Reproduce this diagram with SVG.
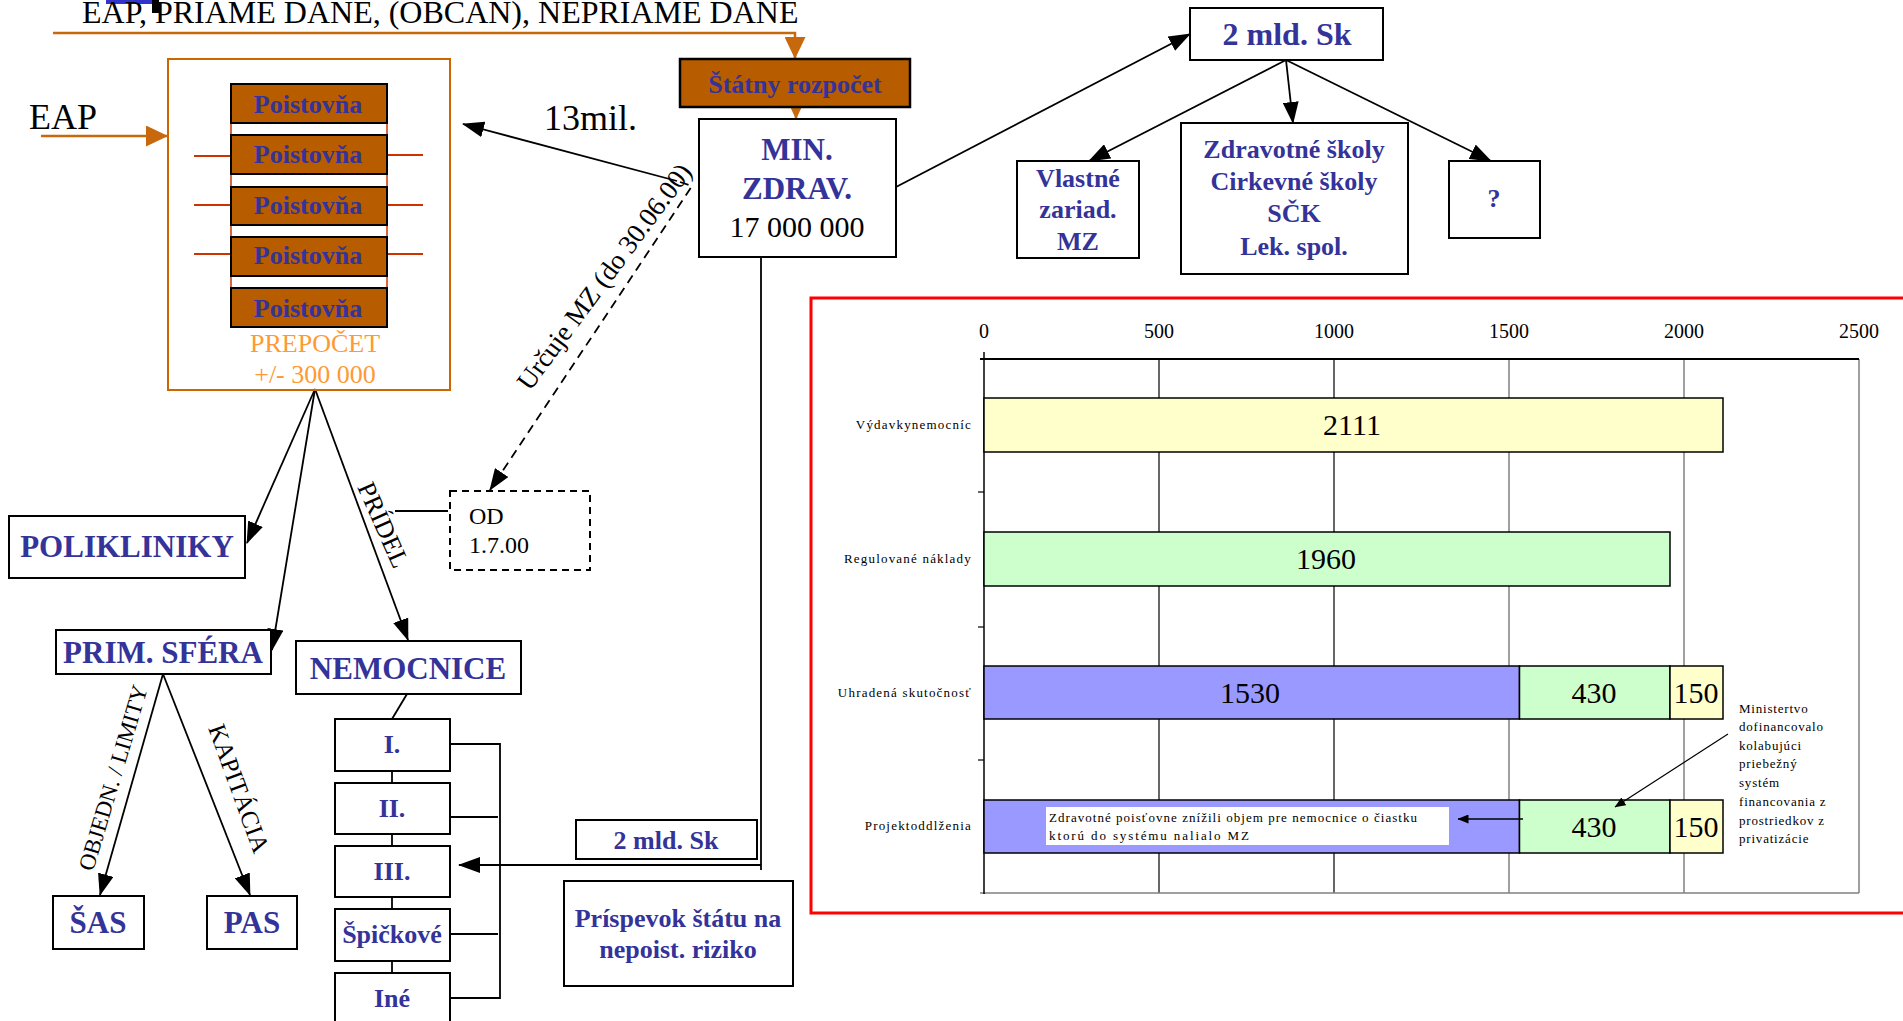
<svg xmlns="http://www.w3.org/2000/svg" width="1903" height="1021" viewBox="0 0 1903 1021">
<style>
text{font-family:"Liberation Serif","Times New Roman",serif;}
.b{fill:#333399;font-weight:bold;font-size:26px;text-anchor:middle;}
.b31{font-size:31px;}
.b30{font-size:30px;}
.bx{fill:#fff;stroke:#000;stroke-width:2;}
.ln{stroke:#000;stroke-width:1.8;fill:none;}
.or{stroke:#C8680C;stroke-width:2.5;fill:none;}
.poi{fill:#B85C00;stroke:#000;stroke-width:2;}
.sm{font-size:13px;fill:#000;}
.tk{font-size:20px;fill:#000;text-anchor:middle;}
.val{font-size:30px;fill:#000;text-anchor:middle;}
.cat{font-size:13px;fill:#000;text-anchor:end;letter-spacing:1.2px;}
.gk{stroke:#000;stroke-width:1.2;}
.gg{stroke:#808080;stroke-width:1.5;}
</style>
<defs>
<marker id="ah" markerUnits="userSpaceOnUse" markerWidth="22" markerHeight="16" viewBox="0 0 22 16" refX="21" refY="8" orient="auto"><path d="M0,0 L22,8 L0,16 z" fill="#000"/></marker>
<marker id="ahs" markerUnits="userSpaceOnUse" markerWidth="11" markerHeight="9" viewBox="0 0 11 9" refX="10.5" refY="4.5" orient="auto"><path d="M0,0 L11,4.5 L0,9 z" fill="#000"/></marker>
<marker id="aho" markerUnits="userSpaceOnUse" markerWidth="22" markerHeight="21" viewBox="0 0 22 21" refX="21" refY="10.5" orient="auto"><path d="M0,0 L22,10.5 L0,21 z" fill="#C8680C"/></marker>
<marker id="ahos" markerUnits="userSpaceOnUse" markerWidth="12" markerHeight="11" viewBox="0 0 12 11" refX="11.5" refY="5.5" orient="auto"><path d="M0,0 L12,5.5 L0,11 z" fill="#C8680C"/></marker>
</defs>
<rect width="1903" height="1021" fill="#fff"/>

<!-- artifacts -->
<rect x="106" y="0" width="48" height="4" fill="#3333CC"/>
<rect x="152" y="0" width="7" height="13" fill="#000"/>

<text x="82" y="23" font-size="32" fill="#000">EAP, PRIAME DANE, (OBCAN), NEPRIAME DANE</text>

<g id="connectors">
  <polyline class="or" points="53,33 795,33 795,58" marker-end="url(#aho)"/>
  <line class="or" x1="41" y1="136" x2="167" y2="136" marker-end="url(#aho)"/>
  <line class="or" x1="796" y1="107" x2="796" y2="119" marker-end="url(#ahos)"/>
  <line class="ln" x1="677" y1="181" x2="463" y2="124" marker-end="url(#ah)"/>
  <polyline class="ln" points="680,182 692,186 490,490" stroke-dasharray="9,6" marker-end="url(#ah)"/>
  <line class="ln" x1="896" y1="187" x2="1190" y2="34" marker-end="url(#ah)"/>
  <line class="ln" x1="1286" y1="60" x2="1089" y2="161" marker-end="url(#ah)"/>
  <line class="ln" x1="1286" y1="60" x2="1293" y2="123" marker-end="url(#ah)"/>
  <line class="ln" x1="1286" y1="60" x2="1491" y2="161" marker-end="url(#ah)"/>
  <line class="ln" x1="315" y1="389" x2="247" y2="543" marker-end="url(#ah)"/>
  <line class="ln" x1="315" y1="389" x2="272" y2="650" marker-end="url(#ah)"/>
  <line class="ln" x1="315" y1="389" x2="408" y2="640" marker-end="url(#ah)"/>
  <line class="ln" x1="395" y1="511" x2="448" y2="511"/>
  <line class="ln" x1="163" y1="674" x2="100" y2="895" marker-end="url(#ah)"/>
  <line class="ln" x1="163" y1="674" x2="250" y2="895" marker-end="url(#ah)"/>
  <line class="ln" x1="407" y1="694" x2="392" y2="719"/>
  <line class="ln" x1="392" y1="771" x2="392" y2="783"/>
  <line class="ln" x1="392" y1="834" x2="392" y2="846"/>
  <line class="ln" x1="392" y1="897" x2="392" y2="909"/>
  <line class="ln" x1="392" y1="961" x2="392" y2="973"/>
  <polyline class="ln" points="450,744 500,744 500,998 450,998"/>
  <line class="ln" x1="450" y1="817" x2="498" y2="817"/>
  <line class="ln" x1="450" y1="934" x2="498" y2="934"/>
  <polyline class="ln" points="761,257 761,870"/>
  <line class="ln" x1="761" y1="865" x2="459" y2="865" marker-end="url(#ah)"/>
  <!-- edge labels -->
  <text x="530" y="392" font-size="27" fill="#000" transform="rotate(-53.5 530 392)">Určuje MZ (do 30.06.00)</text>
  <text x="357" y="487" font-size="26" fill="#000" transform="rotate(66 357 487)">PRÍDEL</text>
  <text x="93" y="872" font-size="23" fill="#000" transform="rotate(-73.4 93 872)">OBJEDN. / LIMITY</text>
  <text x="208" y="728" font-size="25" fill="#000" transform="rotate(70 208 728)">KAPITÁCIA</text>
</g>

<g id="eap"><text x="29" y="129" font-size="36" fill="#000">EAP</text></g>
<g id="mil13"><text x="544" y="130" font-size="36" fill="#000">13mil.</text></g>

<g id="poistovne">
  <rect x="168" y="59" width="282" height="331" fill="none" stroke="#CC6600" stroke-width="2"/>
  <rect x="231" y="84" width="156" height="243" fill="#fff" stroke="#CC3300" stroke-width="1.5"/>
  <line x1="194" y1="156" x2="231" y2="156" stroke="#CC3300" stroke-width="2"/>
  <line x1="194" y1="205" x2="231" y2="205" stroke="#CC3300" stroke-width="2"/>
  <line x1="194" y1="254" x2="231" y2="254" stroke="#CC3300" stroke-width="2"/>
  <line x1="387" y1="155" x2="423" y2="155" stroke="#CC3300" stroke-width="2"/>
  <line x1="387" y1="205" x2="423" y2="205" stroke="#CC3300" stroke-width="2"/>
  <line x1="387" y1="254" x2="423" y2="254" stroke="#CC3300" stroke-width="2"/>
  <rect class="poi" x="231" y="84" width="156" height="39"/>
  <rect class="poi" x="231" y="135" width="156" height="39"/>
  <rect class="poi" x="231" y="187" width="156" height="38"/>
  <rect class="poi" x="231" y="237" width="156" height="39"/>
  <rect class="poi" x="231" y="288" width="156" height="39"/>
  <text class="b" x="308" y="113">Poistovňa</text>
  <text class="b" x="308" y="163">Poistovňa</text>
  <text class="b" x="308" y="214">Poistovňa</text>
  <text class="b" x="308" y="264">Poistovňa</text>
  <text class="b" x="308" y="317">Poistovňa</text>
  <text x="315" y="352" font-size="26" fill="#FF9933" text-anchor="middle">PREPOČET</text>
  <text x="315" y="383" font-size="26" fill="#FF9933" text-anchor="middle">+/- 300 000</text>
</g>

<g id="statny">
  <rect x="680" y="59" width="230" height="48" fill="#B85C00" stroke="#000" stroke-width="2.5"/>
  <text class="b" x="795" y="93">Štátny rozpočet</text>
</g>

<g id="minzdrav">
  <rect class="bx" x="699" y="119" width="197" height="138"/>
  <text class="b b31" x="797" y="160">MIN.</text>
  <text class="b b31" x="797" y="199">ZDRAV.</text>
  <text x="797" y="237" font-size="30" fill="#000" text-anchor="middle">17 000 000</text>
</g>

<g id="mld2top">
  <rect class="bx" x="1190" y="8" width="193" height="52"/>
  <text class="b" x="1287" y="45" style="font-size:32px">2 mld. Sk</text>
</g>

<g id="vlastne">
  <rect class="bx" x="1017" y="161" width="122" height="97"/>
  <text class="b" x="1078" y="187">Vlastné</text>
  <text class="b" x="1078" y="218">zariad.</text>
  <text class="b" x="1078" y="250">MZ</text>
</g>

<g id="skoly">
  <rect class="bx" x="1181" y="123" width="227" height="151"/>
  <text class="b" x="1294" y="158">Zdravotné školy</text>
  <text class="b" x="1294" y="190">Cirkevné školy</text>
  <text class="b" x="1294" y="222">SČK</text>
  <text class="b" x="1294" y="255">Lek. spol.</text>
</g>

<g id="otaznik">
  <rect class="bx" x="1449" y="161" width="91" height="77"/>
  <text class="b" x="1494" y="207">?</text>
</g>

<g id="od">
  <rect x="450" y="491" width="140" height="79" fill="#fff" stroke="#000" stroke-width="2" stroke-dasharray="7,5"/>
  <text x="469" y="524" font-size="24" fill="#000">OD</text>
  <text x="469" y="553" font-size="24" fill="#000">1.7.00</text>
</g>

<g id="polikliniky">
  <rect class="bx" x="9" y="516" width="236" height="62"/>
  <text class="b b31" x="127" y="557">POLIKLINIKY</text>
</g>

<g id="primsfera">
  <rect class="bx" x="56" y="630" width="215" height="44"/>
  <text class="b b31" x="163" y="663">PRIM. SFÉRA</text>
</g>

<g id="nemocnice">
  <rect class="bx" x="296" y="641" width="225" height="53"/>
  <text class="b b31" x="408" y="679">NEMOCNICE</text>
</g>

<g id="sas">
  <rect class="bx" x="53" y="896" width="91" height="53"/>
  <text class="b b31" x="98" y="933">ŠAS</text>
</g>
<g id="pas">
  <rect class="bx" x="207" y="896" width="90" height="53"/>
  <text class="b b31" x="252" y="933">PAS</text>
</g>

<g id="level1"><rect class="bx" x="335" y="719" width="115" height="52"/><text class="b" x="392" y="753">I.</text></g>
<g id="level2"><rect class="bx" x="335" y="783" width="115" height="51"/><text class="b" x="392" y="817">II.</text></g>
<g id="level3"><rect class="bx" x="335" y="846" width="115" height="51"/><text class="b" x="392" y="880">III.</text></g>
<g id="spickove"><rect class="bx" x="335" y="909" width="115" height="52"/><text class="b" x="392" y="943">Špičkové</text></g>
<g id="ine"><rect class="bx" x="335" y="973" width="115" height="60"/><text class="b" x="392" y="1007">Iné</text></g>

<g id="mld2low">
  <rect class="bx" x="576" y="820" width="181" height="39"/>
  <text class="b" x="666" y="849">2 mld. Sk</text>
</g>

<g id="prispevok">
  <rect class="bx" x="564" y="881" width="229" height="105"/>
  <text class="b" x="678" y="927">Príspevok štátu na</text>
  <text class="b" x="678" y="958">nepoist. riziko</text>
</g>

<g id="chart">
  <rect x="811" y="298" width="1100" height="615" fill="#fff" stroke="#FF0000" stroke-width="3"/>
  <line class="gk" x1="1159" y1="359" x2="1159" y2="893"/>
  <line class="gk" x1="1334" y1="359" x2="1334" y2="893"/>
  <line class="gg" x1="1509" y1="359" x2="1509" y2="893"/>
  <line class="gg" x1="1684" y1="359" x2="1684" y2="893"/>
  <line class="gg" x1="1859" y1="359" x2="1859" y2="893"/>
  <line class="gg" x1="980" y1="893" x2="1859" y2="893"/>
  <line x1="980" y1="359" x2="1859" y2="359" stroke="#000" stroke-width="2"/>
  <line x1="984" y1="352" x2="984" y2="894" stroke="#000" stroke-width="1.5"/>
  <line class="gk" x1="978" y1="492" x2="984" y2="492"/>
  <line class="gk" x1="978" y1="627" x2="984" y2="627"/>
  <line class="gk" x1="978" y1="760" x2="984" y2="760"/>
  <text class="tk" x="984" y="338">0</text>
  <text class="tk" x="1159" y="338">500</text>
  <text class="tk" x="1334" y="338">1000</text>
  <text class="tk" x="1509" y="338">1500</text>
  <text class="tk" x="1684" y="338">2000</text>
  <text class="tk" x="1859" y="338">2500</text>

  <rect x="984" y="398" width="739" height="54" fill="#FFFFCC" stroke="#000" stroke-width="1.5"/>
  <rect x="984" y="532" width="686" height="54" fill="#CCFFCC" stroke="#000" stroke-width="1.5"/>
  <rect x="984" y="666" width="535.5" height="53" fill="#9999FF" stroke="#000" stroke-width="1.5"/>
  <rect x="1519.5" y="666" width="150.5" height="53" fill="#CCFFCC" stroke="#000" stroke-width="1.5"/>
  <rect x="1670" y="666" width="53" height="53" fill="#FFFFCC" stroke="#000" stroke-width="1.5"/>
  <rect x="984" y="800" width="535.5" height="53" fill="#9999FF" stroke="#000" stroke-width="1.5"/>
  <rect x="1519.5" y="800" width="150.5" height="53" fill="#CCFFCC" stroke="#000" stroke-width="1.5"/>
  <rect x="1670" y="800" width="53" height="53" fill="#FFFFCC" stroke="#000" stroke-width="1.5"/>

  <text class="val" x="1352" y="435">2111</text>
  <text class="val" x="1326" y="569">1960</text>
  <text class="val" x="1250" y="703">1530</text>
  <text class="val" x="1594" y="703">430</text>
  <text class="val" x="1696" y="703">150</text>
  <text class="val" x="1594" y="837">430</text>
  <text class="val" x="1696" y="837">150</text>

  <text class="cat" x="972" y="429">Výdavkynemocníc</text>
  <text class="cat" x="972" y="563">Regulované náklady</text>
  <text class="cat" x="972" y="697">Uhradená skutočnosť</text>
  <text class="cat" x="972" y="830">Projektoddlženia</text>

  <rect x="1046" y="807" width="403" height="38" fill="#fff"/>
  <text class="sm" x="1049" y="822" textLength="368" lengthAdjust="spacing">Zdravotné poisťovne znížili objem pre nemocnice o čiastku</text>
  <text class="sm" x="1049" y="840" textLength="200" lengthAdjust="spacing">ktorú do systému nalialo MZ</text>
  <line x1="1523" y1="819" x2="1458" y2="819" stroke="#000" stroke-width="1.5" marker-end="url(#ahs)"/>
  <line x1="1728" y1="734" x2="1615" y2="807" stroke="#000" stroke-width="1.2" marker-end="url(#ahs)"/>

  <g font-size="13" fill="#000" letter-spacing="0.8">
    <text x="1739" y="713">Ministertvo</text>
    <text x="1739" y="731">dofinancovalo</text>
    <text x="1739" y="750">kolabujúci</text>
    <text x="1739" y="768">priebežný</text>
    <text x="1739" y="787">systém</text>
    <text x="1739" y="806">financovania z</text>
    <text x="1739" y="825">prostriedkov z</text>
    <text x="1739" y="843">privatizácie</text>
  </g>
</g>
</svg>
